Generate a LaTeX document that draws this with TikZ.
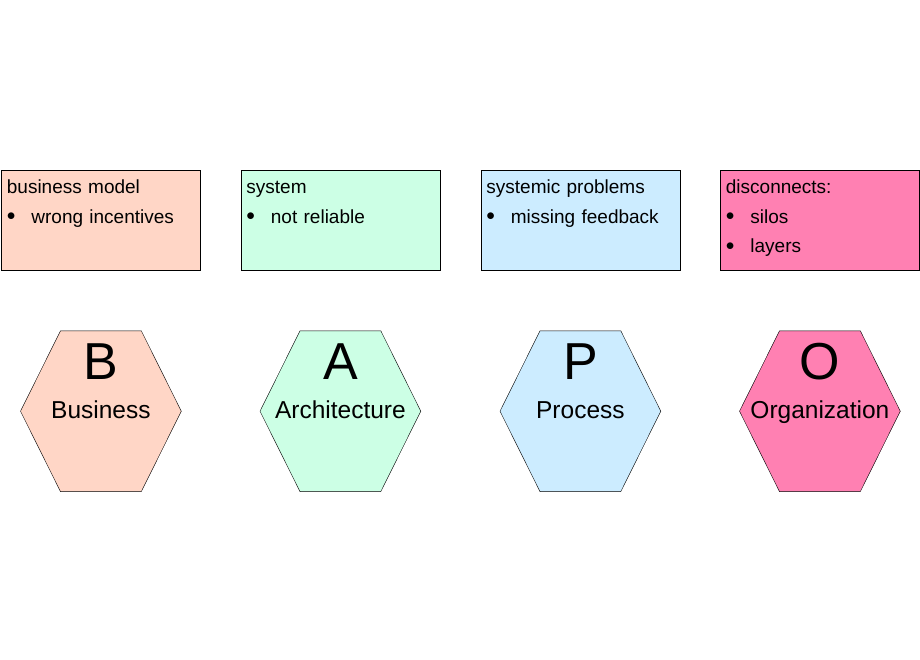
\documentclass[tikz,border=0pt]{standalone}
\usepackage{fontspec}
\setmainfont{Liberation Sans}
\usetikzlibrary{positioning,backgrounds}
\definecolor{bizcol}{RGB}{255,214,198}
\definecolor{archcol}{RGB}{204,255,229}
\definecolor{proccol}{RGB}{204,236,255}
\definecolor{orgcol}{RGB}{255,128,178}
\newcommand{\itm}{\makebox[24.5pt][l]{\raisebox{2.2pt}{$\bullet$}}}

\begin{document}
\begin{tikzpicture}[x=1pt, y=1pt, node distance=60pt, line width=0.8pt,
  note/.style={draw, anchor=north west, minimum width=199pt, minimum height=100pt,
    inner xsep=5.5pt, inner ysep=4pt, text width=188pt, align=left,
    text height=19.3pt, text depth=72.7pt, font=\fontsize{19}{29.5}\selectfont},
  hexa/.style={minimum width=160pt, minimum height=160pt, inner sep=0pt,
    text height=15pt, text depth=0pt, font=\fontsize{24.5}{30}\selectfont},
  letter/.style={inner sep=0pt, font=\fontsize{52}{60}\selectfont}]

  \useasboundingbox (0,0) rectangle (920,-660);

  % problem notes
  \node [note, fill=bizcol] (bm) at (1,-170)
      {business model\\\itm wrong incentives};
  \node [note, fill=archcol] (sys) at (240.5,-170)
      {system\\\itm not reliable};
  \node [note, fill=proccol] (sp) at (480.5,-170)
      {systemic problems\\\itm missing feedback};
  \node [note, fill=orgcol] (dc) at (720,-170)
      {disconnects:\\\itm silos\\\itm layers};

  % BAPO hexagons
  \node [hexa, below=of bm] (hB) {Business};
  \node [hexa, below=of sys] (hA) {Architecture};
  \node [hexa, below=of sp] (hP) {Process};
  \node [hexa, below=of dc] (hO) {Organization};

  \node [letter] (lB) at ([yshift=49.5pt]hB.center) {B};
  \node [letter] (lA) at ([yshift=49.5pt]hA.center) {A};
  \node [letter] (lP) at ([yshift=49.5pt]hP.center) {P};
  \node [letter] (lO) at ([yshift=49.5pt]hO.center) {O};

  \begin{scope}[on background layer]
    \foreach \h/\c in {hB/bizcol, hA/archcol, hP/proccol, hO/orgcol}
      \draw[fill=\c] (\h.west) -- ([xshift=40pt]\h.north west)
        -- ([xshift=-40pt]\h.north east) -- (\h.east)
        -- ([xshift=-40pt]\h.south east) -- ([xshift=40pt]\h.south west) -- cycle;
  \end{scope}
\end{tikzpicture}
\end{document}
